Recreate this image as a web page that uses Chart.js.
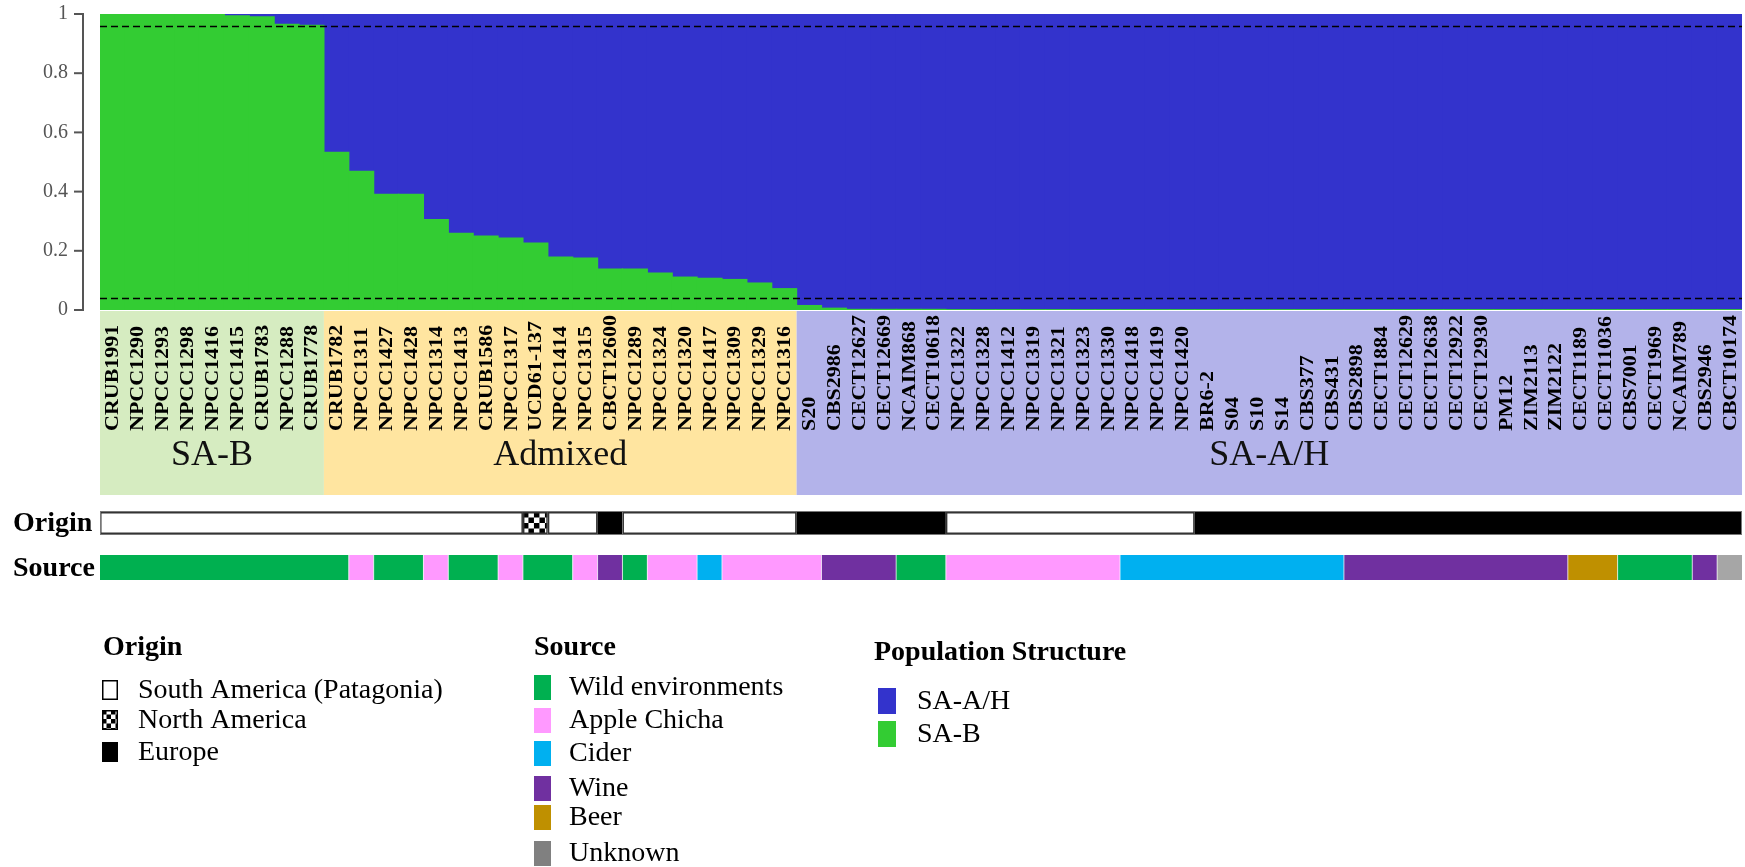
<!DOCTYPE html>
<html>
<head>
<meta charset="utf-8">
<title>Population structure</title>
<script src="https://cdn.jsdelivr.net/npm/chart.js@4.4.1/dist/chart.umd.min.js"></script>
<style>
  html, body { margin: 0; padding: 0; background: #ffffff; }
  #wrap { width: 1745px; height: 867px; position: relative; }
</style>
</head>
<body>
<div id="wrap"><canvas id="structure" width="1745" height="867"></canvas></div>
<script>
// ---- strains, in plotting order ----
const strains = [
  'CRUB1991','NPCC1290','NPCC1293','NPCC1298','NPCC1416','NPCC1415','CRUB1783','NPCC1288','CRUB1778',
  'CRUB1782','NPCC1311','NPCC1427','NPCC1428','NPCC1314','NPCC1413','CRUB1586','NPCC1317','UCD61-137',
  'NPCC1414','NPCC1315','CBCT12600','NPCC1289','NPCC1324','NPCC1320','NPCC1417','NPCC1309','NPCC1329','NPCC1316',
  'S20','CBS2986','CECT12627','CECT12669','NCAIM868','CECT10618','NPCC1322','NPCC1328','NPCC1412','NPCC1319',
  'NPCC1321','NPCC1323','NPCC1330','NPCC1418','NPCC1419','NPCC1420','BR6-2','S04','S10','S14','CBS377','CBS431',
  'CBS2898','CECT1884','CECT12629','CECT12638','CECT12922','CECT12930','PM12','ZIM2113','ZIM2122','CECT1189',
  'CECT11036','CBS7001','CECT1969','NCAIM789','CBS2946','CBCT10174'
];

// ---- cluster groups (consecutive runs of strains) ----
const groupNames = ['SA-B', 'Admixed', 'SA-A/H'];
const groupSizes = [9, 19, 38];

// ---- membership coefficients (K = 2) ----
const membershipSAB = [
  0.998, 0.998, 0.998, 0.998, 0.998, 0.994, 0.990, 0.965, 0.962,
  0.533, 0.468, 0.391, 0.391, 0.305, 0.259, 0.250, 0.243, 0.226, 0.179, 0.175,
  0.138, 0.138, 0.125, 0.111, 0.107, 0.103, 0.091, 0.072,
  0.015, 0.006, 0.002, 0.002, 0.002, 0.002,
  0.001, 0.001, 0.001, 0.001, 0.001, 0.001, 0.001, 0.001, 0.001, 0.001,
  0.001, 0.001, 0.001, 0.001, 0.001, 0.001, 0.001, 0.001, 0.001, 0.001,
  0.001, 0.001, 0.001, 0.001, 0.001, 0.001, 0.001, 0.001, 0.001, 0.001,
  0.001, 0.001
];
const membershipSAAH = [
  0.002, 0.002, 0.002, 0.002, 0.002, 0.006, 0.010, 0.035, 0.038,
  0.467, 0.532, 0.609, 0.609, 0.695, 0.741, 0.750, 0.757, 0.774, 0.821, 0.825,
  0.862, 0.862, 0.875, 0.889, 0.893, 0.897, 0.909, 0.928,
  0.985, 0.994, 0.998, 0.998, 0.998, 0.998,
  0.999, 0.999, 0.999, 0.999, 0.999, 0.999, 0.999, 0.999, 0.999, 0.999,
  0.999, 0.999, 0.999, 0.999, 0.999, 0.999, 0.999, 0.999, 0.999, 0.999,
  0.999, 0.999, 0.999, 0.999, 0.999, 0.999, 0.999, 0.999, 0.999, 0.999,
  0.999, 0.999
];

// assignment thresholds drawn as dashed lines
const thresholds = [0.04, 0.96];

// ---- geographic origin of each strain ----
const origin = [
  'SA','SA','SA','SA','SA','SA','SA','SA','SA','SA','SA','SA','SA','SA','SA','SA','SA',
  'NA',
  'SA','SA',
  'EU',
  'SA','SA','SA','SA','SA','SA','SA',
  'EU','EU','EU','EU','EU','EU',
  'SA','SA','SA','SA','SA','SA','SA','SA','SA','SA',
  'EU','EU','EU','EU','EU','EU','EU','EU','EU','EU','EU',
  'EU','EU','EU','EU','EU','EU','EU','EU','EU','EU','EU'
];
const originNames = ['South America (Patagonia)', 'North America', 'Europe'];
const originKeys = ['SA', 'NA', 'EU'];

// ---- isolation source of each strain ----
const source = [
  'Wild','Wild','Wild','Wild','Wild','Wild','Wild','Wild','Wild','Wild',
  'Chicha','Wild','Wild','Chicha','Wild','Wild','Chicha','Wild','Wild','Chicha',
  'Wine','Wild','Chicha','Chicha','Cider','Chicha','Chicha','Chicha','Chicha',
  'Wine','Wine','Wine','Wild','Wild',
  'Chicha','Chicha','Chicha','Chicha','Chicha','Chicha','Chicha',
  'Cider','Cider','Cider','Cider','Cider','Cider','Cider','Cider','Cider',
  'Wine','Wine','Wine','Wine','Wine','Wine','Wine','Wine','Wine',
  'Beer','Beer','Wild','Wild','Wild','Wine','Unknown'
];
const sourceKeys = ['Wild', 'Chicha', 'Cider', 'Wine', 'Beer', 'Unknown'];
const sourceNames = ['Wild environments', 'Apple Chicha', 'Cider', 'Wine', 'Beer', 'Unknown'];

// ---- styling ----
const SERIF = '"Liberation Serif", "Times New Roman", Times, serif';
const COLOR_SAAH = '#3333cc';
const COLOR_SAB = '#33cc33';
const bandColors = ['#d6ecc1', '#ffe5a0', '#b3b3ea'];
const sourceColors = { Wild: '#00b050', Chicha: '#ff99ff', Cider: '#00b0f0', Wine: '#7030a0', Beer: '#bf9000', Unknown: '#a6a6a6' };
const sourceLegendColors = { Wild: '#00b050', Chicha: '#ff99ff', Cider: '#00b0f0', Wine: '#7030a0', Beer: '#bf9000', Unknown: '#808080' };

function checker(ctx, x0, y0, w, h, cell) {
  ctx.save();
  ctx.beginPath();
  ctx.rect(x0, y0, w, h);
  ctx.clip();
  ctx.fillStyle = '#ffffff';
  ctx.fillRect(x0, y0, w, h);
  ctx.fillStyle = '#000000';
  for (let r = 0; r * cell < h; r++) {
    for (let c = 0; c * cell < w; c++) {
      if ((r + c) % 2 === 0) ctx.fillRect(x0 + c * cell, y0 + r * cell, cell, cell);
    }
  }
  ctx.restore();
}

function runs(arr) {
  const out = [];
  let start = 0;
  for (let i = 1; i <= arr.length; i++) {
    if (i === arr.length || arr[i] !== arr[start]) {
      out.push({ key: arr[start], from: start, to: i - 1 });
      start = i;
    }
  }
  return out;
}

const decorPlugin = {
  id: 'structureDecor',
  afterDatasetsDraw(chart) {
    const { ctx, chartArea: ca, scales: { x, y } } = chart;
    const half = (x.getPixelForValue(1) - x.getPixelForValue(0)) / 2;
    const leftOf = i => x.getPixelForValue(i) - half;
    const rightOf = i => x.getPixelForValue(i) + half;
    ctx.save();

    // dashed threshold lines
    ctx.setLineDash([7, 4]);
    ctx.lineWidth = 1.5;
    ctx.strokeStyle = '#000000';
    thresholds.forEach(t => {
      const py = Math.round(y.getPixelForValue(t)) + 0.5;
      ctx.beginPath();
      ctx.moveTo(ca.left, py);
      ctx.lineTo(ca.right, py);
      ctx.stroke();
    });
    ctx.setLineDash([]);

    // y axis drawn as a bracket set off from the bars
    const ax = ca.left - 17;
    ctx.strokeStyle = '#555555';
    ctx.lineWidth = 2;
    ctx.beginPath();
    ctx.moveTo(ax, y.getPixelForValue(1) - 1);
    ctx.lineTo(ax, y.getPixelForValue(0) + 1);
    ctx.stroke();
    y.ticks.forEach(t => {
      const py = y.getPixelForValue(t.value);
      ctx.beginPath();
      ctx.moveTo(ax - 9, py);
      ctx.lineTo(ax + 1, py);
      ctx.stroke();
    });

    // cluster bands with strain names and group titles
    const bandTop = ca.bottom + 1, bandBottom = 495;
    let start = 0;
    groupSizes.forEach((n, g) => {
      const x0 = leftOf(start), x1 = rightOf(start + n - 1);
      ctx.fillStyle = bandColors[g];
      ctx.fillRect(x0, bandTop, x1 - x0, bandBottom - bandTop);
      ctx.fillStyle = '#111111';
      ctx.font = '36px ' + SERIF;
      ctx.textAlign = 'center';
      ctx.textBaseline = 'middle';
      ctx.fillText(groupNames[g], (x0 + x1) / 2, 456);
      start += n;
    });
    ctx.font = 'bold 22px ' + SERIF;
    ctx.fillStyle = '#000000';
    ctx.textAlign = 'left';
    ctx.textBaseline = 'middle';
    strains.forEach((name, i) => {
      ctx.save();
      ctx.translate(x.getPixelForValue(i) + 1, 431);
      ctx.rotate(-Math.PI / 2);
      ctx.scale(1, 0.88);
      ctx.fillText(name, 0, 0);
      ctx.restore();
    });

    // origin row
    const oTop = 512, oH = 22;
    runs(origin).forEach(r => {
      const x0 = leftOf(r.from), x1 = rightOf(r.to);
      if (r.key === 'EU') {
        ctx.fillStyle = '#000000';
        ctx.fillRect(x0, oTop, x1 - x0, oH);
      } else {
        if (r.key === 'NA') checker(ctx, x0, oTop, x1 - x0, oH, 5.5);
        else { ctx.fillStyle = '#ffffff'; ctx.fillRect(x0, oTop, x1 - x0, oH); }
        ctx.strokeStyle = '#333333';
        ctx.lineWidth = 1.5;
        ctx.strokeRect(x0 + 0.75, oTop + 0.75, x1 - x0 - 1.5, oH - 1.5);
      }
    });
    ctx.strokeStyle = '#777777';
    ctx.lineWidth = 1;
    ctx.strokeRect(leftOf(0) + 0.5, oTop - 0.5, rightOf(strains.length - 1) - leftOf(0) - 1, oH + 1);

    // source row
    const sTop = 555, sH = 25;
    runs(source).forEach(r => {
      const x0 = leftOf(r.from), x1 = rightOf(r.to);
      ctx.fillStyle = sourceColors[r.key];
      ctx.fillRect(x0, sTop, x1 - x0, sH);
      if (r.from > 0) {
        ctx.fillStyle = 'rgba(255,255,255,0.7)';
        ctx.fillRect(x0 - 0.5, sTop, 1, sH);
      }
    });

    // row captions
    ctx.fillStyle = '#000000';
    ctx.font = 'bold 28px ' + SERIF;
    ctx.textAlign = 'left';
    ctx.textBaseline = 'middle';
    ctx.fillText('Origin', 13, oTop + oH / 2 + 1);
    ctx.fillText('Source', 13, sTop + sH / 2 + 1);

    // legends
    const head = (t, lx, ly) => {
      ctx.fillStyle = '#000000';
      ctx.font = 'bold 28px ' + SERIF;
      ctx.fillText(t, lx, ly);
    };
    const item = (t, lx, ly) => {
      ctx.fillStyle = '#000000';
      ctx.font = '28px ' + SERIF;
      ctx.fillText(t, lx, ly);
    };

    head('Origin', 103, 648);
    const originY = [690, 720, 752];
    originKeys.forEach((k, i) => {
      const by = originY[i] - 10, bx = 102, bw = 16, bh = 20;
      if (k === 'SA') {
        ctx.fillStyle = '#ffffff';
        ctx.fillRect(bx, by, bw, bh);
        ctx.strokeStyle = '#000000';
        ctx.lineWidth = 1.5;
        ctx.strokeRect(bx + 0.75, by + 0.75, bw - 1.5, bh - 1.5);
      } else if (k === 'NA') {
        checker(ctx, bx, by, bw, bh, 4.5);
        ctx.strokeStyle = '#000000';
        ctx.lineWidth = 1.5;
        ctx.strokeRect(bx + 0.75, by + 0.75, bw - 1.5, bh - 1.5);
      } else {
        ctx.fillStyle = '#000000';
        ctx.fillRect(bx, by, bw, bh);
      }
      item(originNames[i], 138, originY[i] + 1);
    });

    head('Source', 534, 648);
    const sourceY = [687, 720, 753, 788, 817, 853];
    sourceKeys.forEach((k, i) => {
      ctx.fillStyle = sourceLegendColors[k];
      ctx.fillRect(534, sourceY[i] - 12, 17, 25);
      item(sourceNames[i], 569, sourceY[i] + 1);
    });

    head('Population Structure', 874, 653);
    [['SA-A/H', COLOR_SAAH, 701], ['SA-B', COLOR_SAB, 734]].forEach(([t, c, ly]) => {
      ctx.fillStyle = c;
      ctx.fillRect(878, ly - 13, 18, 26);
      item(t, 917, ly + 1);
    });

    ctx.restore();
  }
};

new Chart(document.getElementById('structure'), {
  type: 'bar',
  data: {
    labels: strains,
    datasets: [
      { label: 'SA-B', data: membershipSAB, backgroundColor: COLOR_SAB, borderWidth: 0, inflateAmount: 0.6, barPercentage: 1, categoryPercentage: 1 },
      { label: 'SA-A/H', data: membershipSAAH, backgroundColor: COLOR_SAAH, borderWidth: 0, inflateAmount: 0.6, barPercentage: 1, categoryPercentage: 1 }
    ]
  },
  options: {
    responsive: false,
    animation: false,
    devicePixelRatio: 1,
    layout: { padding: { left: 0, right: 3, top: 14, bottom: 557 } },
    plugins: { legend: { display: false }, tooltip: { enabled: false }, title: { display: false } },
    scales: {
      x: { stacked: true, display: false, offset: true, grid: { display: false } },
      y: {
        stacked: true,
        min: 0,
        max: 1,
        grid: { display: false, drawTicks: false },
        border: { display: false },
        ticks: {
          stepSize: 0.2,
          padding: 32,
          color: '#555555',
          font: { family: SERIF, size: 20 },
          callback: v => String(Number(v.toFixed(1)))
        },
        afterFit(scale) {
          scale.width = 100;
          scale.paddingTop = 10;
          scale.paddingBottom = 10;
        }
      }
    }
  },
  plugins: [decorPlugin]
});
</script>
</body>
</html>
